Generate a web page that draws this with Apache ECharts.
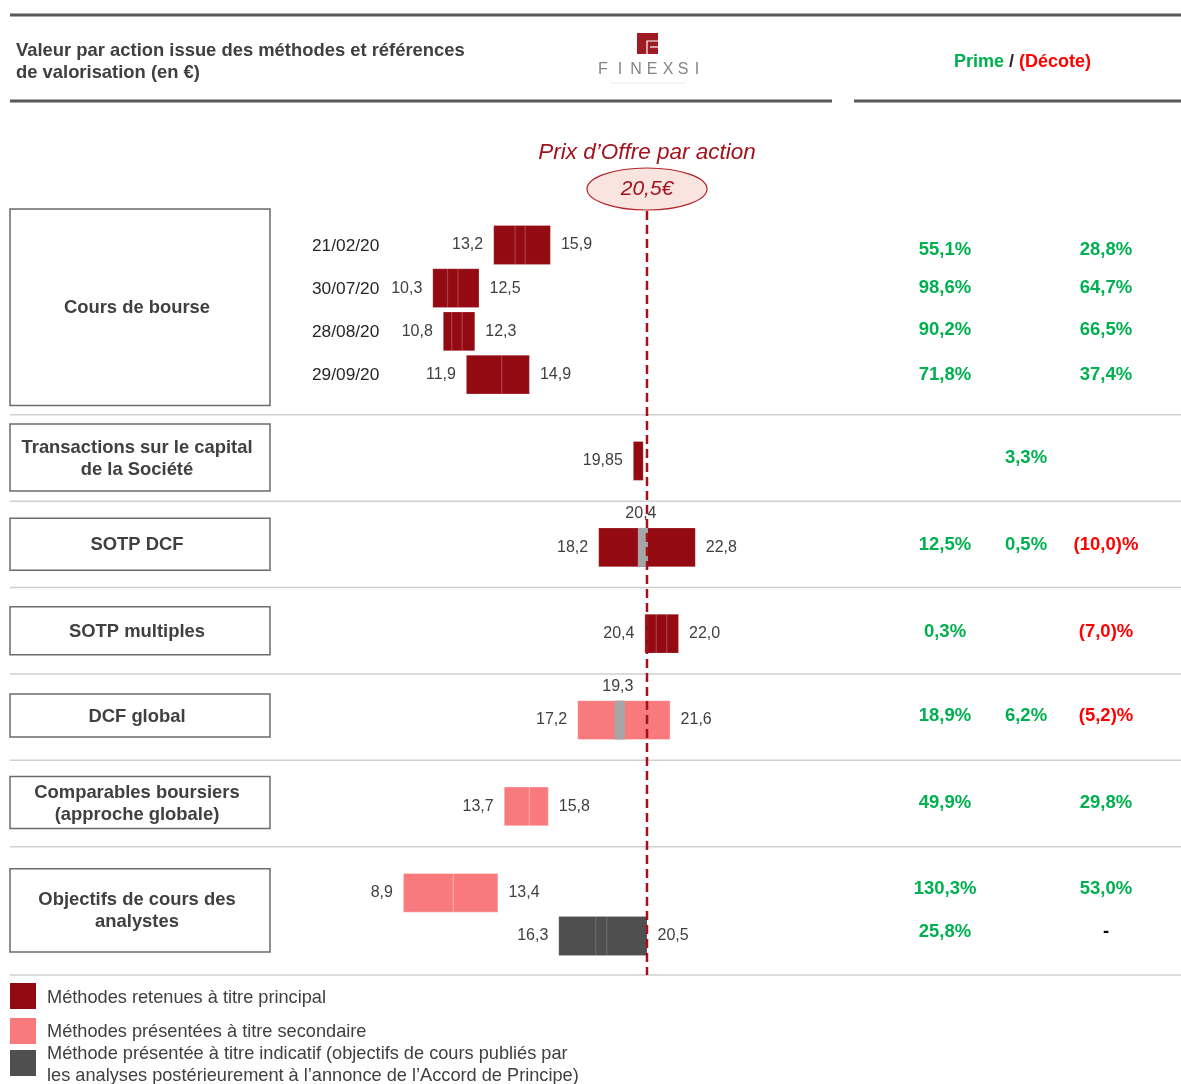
<!DOCTYPE html>
<html><head><meta charset="utf-8">
<script src="https://cdn.jsdelivr.net/npm/echarts/dist/echarts.min.js"></script>
<style>html,body{margin:0;padding:0;background:#fff}#c{width:1181px;height:1084px}</style>
</head><body><div id="c"></div><script>
// ---------------- DATA ----------------
const offerPrice = 20.5;
const rowIds = ['r0','r1','r2','r3','g1','r5','g2','r7','g3','r9','g4','r11','g5','r13','g6','r15','r16'];
const dateLabels = ['21/02/20','30/07/20','28/08/20','29/09/20','','','','','','','','','','','','',''];
const lowValues = [13.2,10.3,10.8,11.9,null,19.85,null,18.2,null,20.4,null,17.2,null,13.7,null,8.9,16.3];
const highValues = [15.9,12.5,12.3,14.9,null,null,null,22.8,null,22.0,null,21.6,null,15.8,null,13.4,20.5];
const centralValues = [null,null,null,null,null,null,null,20.4,null,null,null,19.3,null,null,null,null,null];
const methodType = ['p','p','p','p',null,'p',null,'p',null,'p',null,'s',null,'s',null,'s','i'];
const innerSplits = [[14.22,14.7],[11.0,11.5],[11.2,11.7],[13.58],null,[],null,[],null,[20.94,21.44],null,[],null,[14.9],null,[11.28],[18.06,18.58]];
const primeCol1 = [55.1,98.6,90.2,71.8,null,null,null,12.5,null,0.3,null,18.9,null,49.9,null,130.3,25.8];
const primeCol2 = [null,null,null,null,null,3.3,null,0.5,null,null,null,6.2,null,null,null,null,null];
const primeCol3 = [28.8,64.7,66.5,37.4,null,null,null,-10.0,null,-7.0,null,-5.2,null,29.8,null,53.0,0];
const sectionNames = ['Cours de bourse','Transactions sur le capital\nde la Société','SOTP DCF','SOTP multiples','DCF global','Comparables boursiers\n(approche globale)','Objectifs de cours des\nanalystes'];
const sectionFirstRow = [0,5,7,9,11,13,15];
const sectionLastRow = [3,5,7,9,11,13,16];
const legendLabels = ['Méthodes retenues à titre principal','Méthodes présentées à titre secondaire','Méthode présentée à titre indicatif (objectifs de cours publiés par\nles analyses postérieurement à l’annonce de l’Accord de Principe)'];

// ---------------- STYLE / LAYOUT ----------------
const FONT = "'Liberation Sans', Arial, sans-serif";
const colors = {p:'#930a12', s:'#f97a7c', i:'#4f4f4f', c:'#a6a6a6'};
const splitColors = {p:'rgba(255,255,255,0.22)', s:'rgba(255,255,255,0.35)', i:'rgba(255,255,255,0.15)'};
const green = '#00b050', red = '#ff0000';
const offerColor = '#a3121c';
const pxPerUnit = 21, zeroX = 216.5, W = 1181, H = 1084;
const sectionBoxPad = [[36,31],[37,30],[29,23],[27,21],[26,17],[30,22],[24,16]];
const pctDy = [5,0,-1,0,0,-3,0,-2,0,-2,0,-4,0,-4,0,-4,-4];
const colX = [945, 1026, 1106];
const pointWidth = 0.47, centralHalf = 0.24;

function fmtVal(v){
  const two = Math.abs(Math.round(v*10) - v*10) > 1e-6;
  return v.toFixed(two ? 2 : 1).replace('.', ',');
}
function fmtPct(v){
  if (v === 0) return {t:'-', c:'#000'};
  if (v < 0) return {t:'(' + Math.abs(v).toFixed(1).replace('.', ',') + ')%', c:red};
  return {t: v.toFixed(1).replace('.', ',') + '%', c:green};
}

function renderRow(params, api){
  const i = params.dataIndex;
  const y = api.coord([0, i])[1];
  const band = api.size([0, 1])[1];
  const ch = [];
  if (methodType[i] == null){
    ch.push({type:'line', shape:{x1:10, y1:y-3, x2:W, y2:y-3}, style:{stroke:'#cfcfcf', lineWidth:1.5}});
    return {type:'group', children:ch};
  }
  const h = band*0.9;
  const lo = lowValues[i];
  const hi = highValues[i] != null ? highValues[i] : lo + pointWidth;
  const x0 = api.coord([lo, i])[0], x1 = api.coord([hi, i])[0];
  const t = methodType[i];
  ch.push({type:'rect', shape:{x:x0, y:y-h/2, width:x1-x0, height:h}, style:{fill:colors[t], stroke:splitColors[t], lineWidth:1}});
  (innerSplits[i] || []).forEach(s => {
    const sx = api.coord([s, i])[0];
    ch.push({type:'line', shape:{x1:sx, y1:y-h/2, x2:sx, y2:y+h/2}, style:{stroke:splitColors[t], lineWidth:1.2}});
  });
  if (centralValues[i] != null){
    const ca = api.coord([centralValues[i]-centralHalf, i])[0], cb = api.coord([centralValues[i]+centralHalf, i])[0];
    ch.push({type:'rect', shape:{x:ca-2, y:y-h/2, width:cb-ca, height:h}, style:{fill:colors.c}});
    ch.push({type:'text', style:{text:fmtVal(centralValues[i]), x:(ca+cb)/2-4, y:y-h/2-14, align:'center', verticalAlign:'middle', font:'16px '+FONT, fill:'#404040'}});
  }
  ch.push({type:'text', style:{text:fmtVal(lo), x:x0-10.5, y:y, align:'right', verticalAlign:'middle', font:'16px '+FONT, fill:'#404040'}});
  if (highValues[i] != null)
    ch.push({type:'text', style:{text:fmtVal(hi), x:x1+10.5, y:y, align:'left', verticalAlign:'middle', font:'16px '+FONT, fill:'#404040'}});
  if (dateLabels[i])
    ch.push({type:'text', style:{text:dateLabels[i], x:312, y:y+1, align:'left', verticalAlign:'middle', font:'17.3px '+FONT, fill:'#262626'}});
  [primeCol1, primeCol2, primeCol3].forEach((col, k) => {
    if (col[i] == null) return;
    const f = fmtPct(col[i]);
    ch.push({type:'text', style:{text:f.t, x:colX[k], y:y+pctDy[i], align:'center', verticalAlign:'middle', font:'bold 18.5px '+FONT, fill:f.c}});
  });
  if (i === rowIds.length - 1)
    ch.push({type:'line', shape:{x1:10, y1:y+39, x2:W, y2:y+39}, style:{stroke:'#cfcfcf', lineWidth:1.5}});
  return {type:'group', children:ch};
}

function renderSection(params, api){
  const k = params.dataIndex;
  const yt = api.coord([0, sectionFirstRow[k]])[1] - sectionBoxPad[k][0];
  const yb = api.coord([0, sectionLastRow[k]])[1] + sectionBoxPad[k][1];
  return {type:'group', children:[
    {type:'rect', shape:{x:10, y:yt, width:260, height:yb-yt}, style:{fill:'#fff', stroke:'#6b6b6b', lineWidth:1.5}},
    {type:'text', style:{text:sectionNames[k], x:137, y:(yt+yb)/2 + 1, align:'center', verticalAlign:'middle', lineHeight:22, font:'bold 18.4px '+FONT, fill:'#404040'}}
  ]};
}

function renderOffer(params, api){
  const x = api.coord([offerPrice, 0])[0];
  return {type:'group', children:[
    {type:'line', shape:{x1:x, y1:211, x2:x, y2:975}, style:{stroke:offerColor, lineWidth:2.5, lineDash:[9,5]}},
    {type:'ellipse', shape:{cx:x, cy:189, rx:60, ry:21}, style:{fill:'#f9e4df', stroke:'#b3262c', lineWidth:1.2}},
    {type:'text', style:{text:fmtVal(offerPrice)+'€', x:x, y:189, align:'center', verticalAlign:'middle', font:'italic 21px '+FONT, fill:offerColor}},
    {type:'text', style:{text:'Prix d’Offre par action', x:x, y:153, align:'center', verticalAlign:'middle', font:'italic 22.5px '+FONT, fill:offerColor}}
  ]};
}

const finexsi = 'FINEXSI'.split('');
const finexsiX = [603, 620, 636, 652, 668, 683, 697];
const legendColors = [colors.p, colors.s, colors.i];
const legendY = [997.5, 1031.5, 1065];

const graphic = [
  {type:'line', shape:{x1:10, y1:15, x2:W, y2:15}, style:{stroke:'#595959', lineWidth:3}},
  {type:'line', shape:{x1:10, y1:101, x2:832, y2:101}, style:{stroke:'#595959', lineWidth:3}},
  {type:'line', shape:{x1:854, y1:101, x2:W, y2:101}, style:{stroke:'#595959', lineWidth:3}},
  {type:'text', style:{text:'Valeur par action issue des méthodes et références\nde valorisation (en €)', x:16, y:62, verticalAlign:'middle', lineHeight:22, font:'bold 18.4px '+FONT, fill:'#404040'}},
  {type:'rect', shape:{x:637, y:33, width:21, height:21}, style:{fill:'#9e1b21'}},
  {type:'polyline', shape:{points:[[658,41],[647,41],[647,54]]}, style:{stroke:'#fff', lineWidth:1.2, fill:null}},
  {type:'line', shape:{x1:650, y1:47, x2:658, y2:47}, style:{stroke:'#fff', lineWidth:1.2}},
  {type:'line', shape:{x1:610, y1:83, x2:686, y2:83}, style:{stroke:'#ececec', lineWidth:1}},
  ...finexsi.map((c, k) => ({type:'text', style:{text:c, x:finexsiX[k], y:70, align:'center', verticalAlign:'middle', font:'16px '+FONT, fill:'#858585'}})),
  {type:'text', style:{text:'Prime', x:1004, y:62, align:'right', verticalAlign:'middle', font:'bold 18px '+FONT, fill:green}},
  {type:'text', style:{text:'/', x:1011.5, y:62, align:'center', verticalAlign:'middle', font:'bold 18px '+FONT, fill:'#262626'}},
  {type:'text', style:{text:'(Décote)', x:1019, y:62, align:'left', verticalAlign:'middle', font:'bold 18px '+FONT, fill:red}},
  ...legendLabels.map((l, k) => ({type:'rect', shape:{x:10, y:[983,1018,1050][k], width:26, height:26}, style:{fill:legendColors[k]}})),
  ...legendLabels.map((l, k) => ({type:'text', style:{text:l, x:47, y:legendY[k], verticalAlign:'middle', lineHeight:22, font:'18.2px '+FONT, fill:'#404040'}}))
];

const band = (936 - 245) / (rowIds.length - 1);
const chart = echarts.init(document.getElementById('c'), null, {renderer:'canvas'});
chart.setOption({
  animation:false,
  backgroundColor:'#fff',
  grid:{left:0, right:0, top:245 - band/2, bottom:H - (936 + band/2)},
  xAxis:{type:'value', min:-zeroX/pxPerUnit, max:(W-zeroX)/pxPerUnit, show:false},
  yAxis:{type:'category', data:rowIds, inverse:true, show:false},
  graphic:graphic,
  series:[
    {type:'custom', name:'sections', z:2, renderItem:renderSection, data:sectionNames.map((n,k)=>[0, sectionFirstRow[k]])},
    {type:'custom', name:'rows', z:3, renderItem:renderRow, data:rowIds.map((r,i)=>[lowValues[i] != null ? lowValues[i] : 0, i])},
    {type:'custom', name:'offer', z:5, renderItem:renderOffer, data:[[offerPrice, 0]]}
  ]
});
</script></body></html>
